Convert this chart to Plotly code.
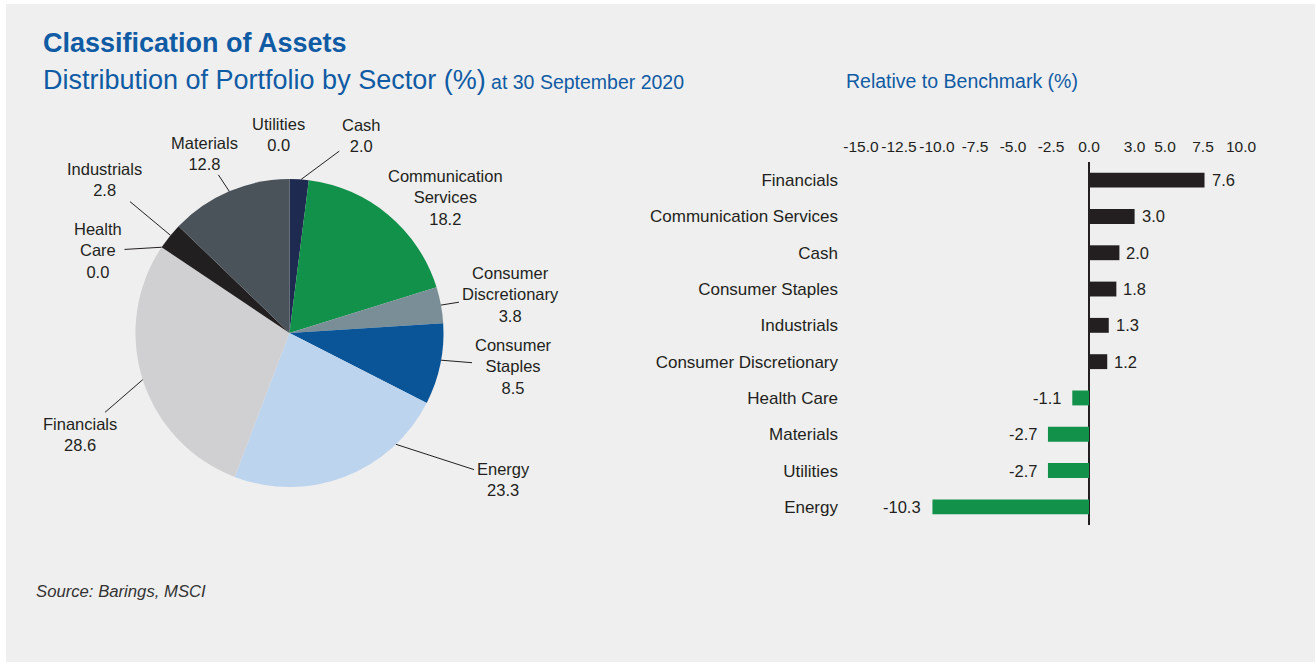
import math
import plotly.graph_objects as go

W, H = 1316, 663

# Portfolio distribution by sector (%), clockwise from 12 o'clock
pie_sectors = ["Cash", "Communication Services", "Consumer Discretionary",
               "Consumer Staples", "Energy", "Financials", "Health Care",
               "Industrials", "Materials", "Utilities"]
pie_values = [2.0, 18.2, 3.8, 8.5, 23.3, 28.6, 0.0, 2.8, 12.8, 0.0]
pie_colors = ["#1e2a50", "#12914a", "#7a8e97", "#0a5598", "#bdd4ee",
              "#d0d0d2", "#9aa5ab", "#221f20", "#4a525a", "#b0b0b0"]

# Relative to benchmark (%)
bar_sectors = ["Financials", "Communication Services", "Cash", "Consumer Staples",
               "Industrials", "Consumer Discretionary", "Health Care",
               "Materials", "Utilities", "Energy"]
bar_values = [7.6, 3.0, 2.0, 1.8, 1.3, 1.2, -1.1, -2.7, -2.7, -10.3]
tick_values = [-15.0, -12.5, -10.0, -7.5, -5.0, -2.5, 0.0, 3.0, 5.0, 7.5, 10.0]

FONT = "Liberation Sans, Arial, Helvetica, sans-serif"
BLUE = "#0f5ba4"
INK = "#231f20"
POS_COLOR = "#231f20"
NEG_COLOR = "#12914a"


def px(x):
    return x / W


def py(y):
    return 1 - y / H


# pie geometry in pixels
CX, CY, R = 289.5, 333.0, 154.0

# label placement (pixel centres), leader-line anchor within each slice
label_centres = [(361, 135), (445, 197), (510, 294), (513, 366), (503, 479),
                 (80, 434), (98, 251), (104, 180), (204, 153), (278, 135)]
anchor_frac = [0.6, 0.5, 0.5, 0.45, 0.23, 0.5, 0.5, 0.55, 0.5, 0.5]
has_leader = [True, True, True, True, True, True, True, True, True, False]

fig = go.Figure()

fig.add_trace(go.Pie(
    labels=pie_sectors,
    values=pie_values,
    sort=False,
    direction="clockwise",
    rotation=0,
    marker=dict(colors=pie_colors, line=dict(width=0)),
    textinfo="none",
    hoverinfo="label+value",
    showlegend=False,
    domain=dict(x=[px(CX - R), px(CX + R)], y=[py(CY + R), py(CY - R)]),
))

fig.add_trace(go.Bar(
    x=bar_values,
    y=bar_sectors,
    orientation="h",
    width=0.41,
    marker=dict(color=[POS_COLOR if v >= 0 else NEG_COLOR for v in bar_values],
                line=dict(width=0)),
    showlegend=False,
    xaxis="x", yaxis="y",
))

annotations = []

# pie slice labels with leader lines
total = sum(pie_values)
cum = 0.0
for name, val, (lx, ly), frac, lead in zip(pie_sectors, pie_values, label_centres,
                                           anchor_frac, has_leader):
    a0 = 360.0 * cum / total
    a1 = 360.0 * (cum + val) / total
    cum += val
    theta = math.radians(a0 + frac * (a1 - a0))
    hx = CX + R * math.sin(theta)
    hy = CY - R * math.cos(theta)
    text = name.replace(" ", "<br>") + "<br>" + f"{val:.1f}"
    if lead:
        annotations.append(dict(
            x=px(hx), y=py(hy), xref="paper", yref="paper",
            ax=lx - hx, ay=ly - hy, text=text, showarrow=True,
            arrowhead=0, arrowwidth=1, arrowcolor=INK, standoff=0,
            startstandoff=1,
            font=dict(family=FONT, size=16.5, color=INK), align="center",
        ))
    else:
        annotations.append(dict(
            x=px(lx), y=py(ly), xref="paper", yref="paper", text=text,
            showarrow=False, xanchor="center", yanchor="middle",
            font=dict(family=FONT, size=16.5, color=INK), align="center",
        ))

# bar value labels
for name, v in zip(bar_sectors, bar_values):
    annotations.append(dict(
        x=v, y=name, xref="x", yref="y", text=f"{v:.1f}", showarrow=False,
        xanchor="left" if v >= 0 else "right", yanchor="middle",
        xshift=5 if v >= 0 else -9,
        font=dict(family=FONT, size=16.5, color=INK),
    ))

# headings and source
annotations += [
    dict(x=px(41), y=py(43), xref="paper", yref="paper", xanchor="left",
         yanchor="middle", showarrow=False,
         text="<b>Classification of Assets</b>",
         font=dict(family=FONT, size=27, color=BLUE)),
    dict(x=px(41), y=py(80), xref="paper", yref="paper", xanchor="left",
         yanchor="middle", showarrow=False,
         text="Distribution of Portfolio by Sector (%)"
              "<span style='font-size:19.5px'> at 30 September 2020</span>",
         font=dict(family=FONT, size=27, color=BLUE)),
    dict(x=px(844), y=py(81), xref="paper", yref="paper", xanchor="left",
         yanchor="middle", showarrow=False,
         text="Relative to Benchmark (%)",
         font=dict(family=FONT, size=19.5, color=BLUE)),
    dict(x=px(34), y=py(591), xref="paper", yref="paper", xanchor="left",
         yanchor="middle", showarrow=False,
         text="<i>Source: Barings, MSCI</i>",
         font=dict(family=FONT, size=16.7, color="#333333")),
]

# bar axes: 0 at x=1089px, 15.2 px per unit
X0_PX, SCALE = 1089.0, 15.2
DOM_L, DOM_R = 860.0, 1252.0
x_range = [(DOM_L - X0_PX) / SCALE, (DOM_R - X0_PX) / SCALE]

fig.update_layout(
    width=W, height=H,
    margin=dict(l=0, r=0, t=0, b=0, autoexpand=False),
    paper_bgcolor="white",
    plot_bgcolor="rgba(0,0,0,0)",
    font=dict(family=FONT, color=INK),
    annotations=annotations,
    shapes=[dict(type="rect", xref="paper", yref="paper",
                 x0=px(6), x1=px(1315), y0=py(662), y1=py(4),
                 fillcolor="#efefef", line=dict(width=0), layer="below")],
    xaxis=dict(
        domain=[px(DOM_L), px(DOM_R)], range=x_range, side="top",
        tickvals=tick_values, ticktext=[f"{t:.1f}" for t in tick_values],
        tickangle=0,
        tickfont=dict(family=FONT, size=15.5, color=INK),
        ticklabelstandoff=6,
        showgrid=False, showline=False, ticks="",
        zeroline=True, zerolinecolor=INK, zerolinewidth=1.5,
        automargin=False, fixedrange=True,
    ),
    yaxis=dict(
        domain=[py(525), py(162)],
        categoryorder="array", categoryarray=bar_sectors,
        range=[len(bar_sectors) - 0.5, -0.5],
        tickfont=dict(family=FONT, size=17, color=INK),
        showgrid=False, showline=False, zeroline=False, ticks="",
        ticklabelstandoff=21,
        automargin=False, fixedrange=True,
    ),
)

fig.write_html("out.html")
